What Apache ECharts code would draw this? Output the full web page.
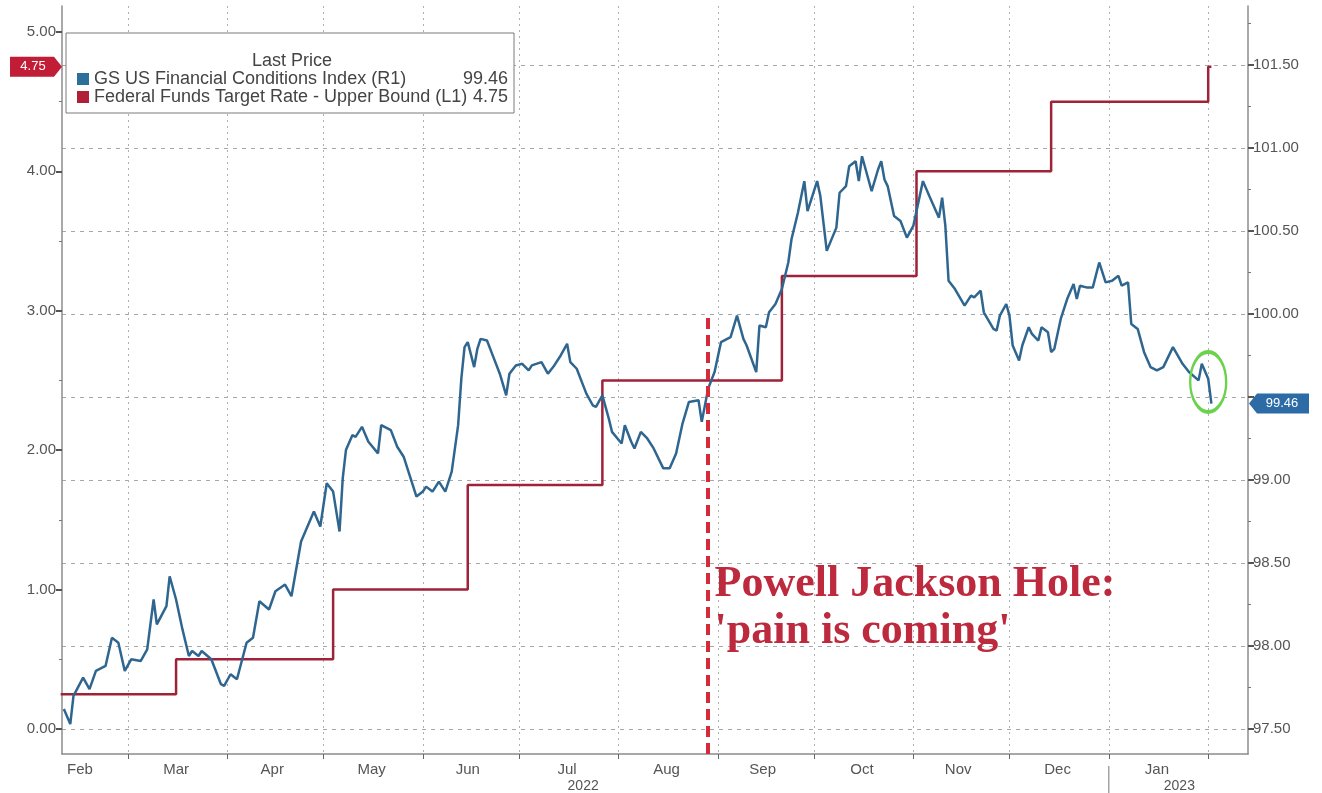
<!DOCTYPE html>
<html>
<head>
<meta charset="utf-8">
<title>GS FCI vs Fed Funds</title>
<script src="https://cdn.jsdelivr.net/npm/echarts@6/dist/echarts.min.js"></script>
<style>html,body{margin:0;background:#fff;}</style>
</head>
<body>
<div id="main" style="width:1322px;height:793px;"></div>
<script>
var fciName = 'GS US Financial Conditions Index (R1)';
var fedName = 'Federal Funds Target Rate - Upper Bound (L1)';

// GS FCI (right axis)
var fciDates = [
  '2022-02-09','2022-02-11','2022-02-12','2022-02-15','2022-02-17','2022-02-19','2022-02-22','2022-02-24','2022-02-26','2022-02-28',
  '2022-03-02','2022-03-05','2022-03-07','2022-03-09','2022-03-10','2022-03-13','2022-03-14','2022-03-16','2022-03-18','2022-03-20','2022-03-21','2022-03-23','2022-03-24','2022-03-27','2022-03-30','2022-03-31',
  '2022-04-02','2022-04-04','2022-04-07','2022-04-09','2022-04-11','2022-04-14','2022-04-16','2022-04-19','2022-04-21','2022-04-24','2022-04-28','2022-04-30',
  '2022-05-02','2022-05-04','2022-05-06','2022-05-07','2022-05-08','2022-05-10','2022-05-11','2022-05-13','2022-05-15','2022-05-18','2022-05-19','2022-05-22','2022-05-24','2022-05-26','2022-05-28','2022-05-30',
  '2022-06-01','2022-06-02','2022-06-04','2022-06-06','2022-06-08','2022-06-10','2022-06-12','2022-06-13','2022-06-14','2022-06-15','2022-06-17','2022-06-18','2022-06-19','2022-06-21','2022-06-23','2022-06-25','2022-06-27','2022-06-28','2022-06-30',
  '2022-07-02','2022-07-04','2022-07-05','2022-07-08','2022-07-10','2022-07-12','2022-07-14','2022-07-16','2022-07-17','2022-07-19','2022-07-21','2022-07-22','2022-07-24','2022-07-25','2022-07-27','2022-07-29','2022-07-30',
  '2022-08-02','2022-08-03','2022-08-05','2022-08-06','2022-08-08','2022-08-10','2022-08-12','2022-08-15','2022-08-17','2022-08-19','2022-08-21','2022-08-23','2022-08-26','2022-08-27','2022-08-29','2022-08-31',
  '2022-09-02','2022-09-05','2022-09-07','2022-09-09','2022-09-10','2022-09-13','2022-09-14','2022-09-16','2022-09-17','2022-09-19','2022-09-21','2022-09-23','2022-09-24','2022-09-26','2022-09-28','2022-09-29',
  '2022-10-02','2022-10-03','2022-10-05','2022-10-08','2022-10-09','2022-10-11','2022-10-12','2022-10-14','2022-10-15','2022-10-16','2022-10-18','2022-10-19','2022-10-21','2022-10-22','2022-10-23','2022-10-24','2022-10-26','2022-10-28','2022-10-30',
  '2022-11-01','2022-11-04','2022-11-06','2022-11-09','2022-11-10','2022-11-11','2022-11-12','2022-11-14','2022-11-17','2022-11-19','2022-11-20','2022-11-22','2022-11-23','2022-11-26','2022-11-27','2022-11-28','2022-11-30',
  '2022-12-01','2022-12-02','2022-12-04','2022-12-05','2022-12-07','2022-12-08','2022-12-10','2022-12-11','2022-12-13','2022-12-14','2022-12-15','2022-12-17','2022-12-19','2022-12-21','2022-12-22','2022-12-23','2022-12-25','2022-12-27','2022-12-29','2022-12-31',
  '2023-01-02','2023-01-04','2023-01-05','2023-01-07','2023-01-08','2023-01-10','2023-01-12','2023-01-14','2023-01-16','2023-01-18','2023-01-21','2023-01-24','2023-01-26','2023-01-29','2023-01-30',
  '2023-02-01','2023-02-02'
];
var fciValues = [
  97.62,97.53,97.70,97.81,97.74,97.85,97.88,98.05,98.02,97.85,
  97.92,97.91,97.98,98.28,98.13,98.24,98.42,98.28,98.10,97.94,97.97,97.94,97.97,97.92,97.77,97.76,
  97.83,97.80,98.02,98.05,98.27,98.22,98.33,98.37,98.30,98.63,98.81,98.72,
  98.98,98.93,98.69,99.01,99.18,99.27,99.26,99.32,99.23,99.16,99.33,99.30,99.20,99.14,99.02,98.90,
  98.93,98.96,98.93,98.99,98.93,99.05,99.33,99.61,99.80,99.83,99.68,99.79,99.85,99.84,99.74,99.64,99.51,99.64,99.69,
  99.70,99.66,99.69,99.71,99.64,99.69,99.75,99.82,99.71,99.67,99.57,99.52,99.45,99.44,99.51,99.37,99.29,
  99.22,99.33,99.23,99.19,99.29,99.25,99.19,99.07,99.07,99.16,99.34,99.47,99.48,99.35,99.55,99.65,
  99.83,99.86,99.99,99.85,99.81,99.65,99.93,99.92,100.01,100.06,100.15,100.31,100.45,100.61,100.80,100.62,
  100.80,100.71,100.38,100.52,100.73,100.77,100.89,100.92,100.80,100.95,100.81,100.74,100.87,100.92,100.81,100.77,100.59,100.56,100.46,
  100.53,100.80,100.71,100.58,100.70,100.53,100.20,100.15,100.05,100.11,100.10,100.14,100.01,99.91,99.90,99.99,100.06,
  99.99,99.81,99.72,99.81,99.92,99.88,99.84,99.92,99.89,99.77,99.79,99.97,100.09,100.18,100.09,100.17,100.16,100.16,100.31,100.19,
  100.20,100.23,100.17,100.19,99.94,99.91,99.77,99.68,99.66,99.68,99.80,99.70,99.65,99.60,99.70,
  99.61,99.46
];

// Fed funds upper bound, step changes (left axis)
var fedDates = ['2022-02-08','2022-03-16','2022-05-04','2022-06-15','2022-07-27','2022-09-21','2022-11-02','2022-12-14','2023-02-01','2023-02-02'];
var fedValues = [0.25, 0.50, 1.00, 1.75, 2.50, 3.25, 4.00, 4.50, 4.75, 4.75];

var monthTicks = ['2022-03-01','2022-04-01','2022-05-01','2022-06-01','2022-07-01','2022-08-01','2022-09-01','2022-10-01','2022-11-01','2022-12-01','2023-01-01','2023-02-01'];
var monthLabels = ['2022-02-14','2022-03-16','2022-04-15','2022-05-16','2022-06-15','2022-07-16','2022-08-16','2022-09-15','2022-10-16','2022-11-15','2022-12-16','2023-01-16'];
var yearLabels = ['2022-07-21','2023-01-23'];
var yearBreak = '2023-01-01';
var monthNames = ['Jan','Feb','Mar','Apr','May','Jun','Jul','Aug','Sep','Oct','Nov','Dec'];

var leftTicks = [0, 1, 2, 3, 4, 5];
var leftMinor = [0.5, 1.5, 2.5, 3.5, 4.5];
var rightTicks = [97.5, 98, 98.5, 99, 99.5, 100, 100.5, 101, 101.5];
var rightMinor = [97.75, 98.25, 98.75, 99.25, 99.75, 100.25, 100.75, 101.25, 101.75];

var jhDate = '2022-08-29';
var jhTop = 2.95;
var noteDate = '2022-08-31';
var noteY = 0.87;
var noteText = "Powell Jackson Hole:\n'pain is coming'";
var ringDate = '2023-02-01';
var ringY = 99.59;

// date string -> local timestamp
function ts(s) {
  var p = s.split('-');
  return new Date(+p[0], +p[1] - 1, +p[2]).getTime();
}

var xMin = new Date(2022, 1, 8, 10).getTime();
var xMax = new Date(2023, 1, 13, 10).getTime();
var L_MIN = -0.179, L_MAX = 5.186;
var R_MIN = 97.3496, R_MAX = 101.8548;

var lastFci = fciValues[fciValues.length - 1];
var lastFed = fedValues[fedValues.length - 1];

var axisGray = '#8c8c8c';
var labelGray = '#555';
var blue = '#2f6690';
var red = '#9e2238';

var chart = echarts.init(document.getElementById('main'));

function zip(a, b) {
  return a.map(function (d, i) { return [ts(d), b[i]]; });
}

var titleText = {
  id: 'legendTitle',
  type: 'text',
  x: 292, y: 61, z: 100,
  style: { text: 'Last Price', fill: '#444', font: '18px "Liberation Sans"', textAlign: 'center', textVerticalAlign: 'middle' }
};

var option = {
  animation: false,
  backgroundColor: '#fff',
  textStyle: { fontFamily: 'Liberation Sans' },
  grid: { left: 62, right: 74, top: 6, bottom: 38 },
  legend: {
    orient: 'vertical',
    left: 66,
    top: 33,
    padding: [37, 6, 7, 11],
    itemGap: 0,
    itemWidth: 12,
    itemHeight: 12,
    icon: 'rect',
    backgroundColor: '#fff',
    borderColor: '#7a7a7a',
    borderWidth: 1,
    data: [fciName, fedName],
    formatter: function (name) {
      var v = name === fciName ? lastFci.toFixed(2) : lastFed.toFixed(2);
      return '{n|' + name + '}{v|' + v + '}';
    },
    textStyle: {
      color: '#444',
      rich: {
        n: { width: 377, fontSize: 18, lineHeight: 18, color: '#444' },
        v: { width: 37, align: 'right', fontSize: 18, lineHeight: 18, color: '#444' }
      }
    }
  },
  graphic: [titleText],
  xAxis: [{
    type: 'value', min: xMin, max: xMax, gridIndex: 0,
    axisLine: { onZero: false, lineStyle: { color: axisGray, width: 1.5 } },
    axisTick: { customValues: monthTicks.map(ts), length: 5, lineStyle: { color: '#666' } },
    axisLabel: {
      customValues: monthLabels.map(ts), margin: 8, color: labelGray, fontSize: 15,
      formatter: function (v) { return monthNames[new Date(v).getMonth()]; }
    },
    splitLine: { show: true, lineStyle: { color: '#b0b0b0', type: [2, 4], width: 1 } }
  }, {
    type: 'value', min: xMin, max: xMax, gridIndex: 0, position: 'bottom', offset: 13,
    axisLine: { show: false, onZero: false },
    axisTick: { show: false },
    axisLabel: {
      customValues: yearLabels.map(ts), margin: 12, color: labelGray, fontSize: 14,
      formatter: function (v) { return String(new Date(v).getFullYear()); }
    },
    splitLine: { show: false }
  }],
  yAxis: [{
    type: 'value', position: 'left', min: L_MIN, max: L_MAX,
    axisLine: { show: true, onZero: false, lineStyle: { color: axisGray, width: 1.5 } },
    axisTick: { show: true, customValues: leftTicks, length: 6, lineStyle: { color: '#555', width: 2 } },
    axisLabel: { customValues: leftTicks, color: labelGray, fontSize: 15, margin: 6, formatter: function (v) { return v.toFixed(2); } },
    splitLine: { show: false }
  }, {
    type: 'value', position: 'right', min: R_MIN, max: R_MAX,
    axisLine: { show: true, onZero: false, lineStyle: { color: axisGray, width: 1.5 } },
    axisTick: { show: true, customValues: rightTicks, length: 6, lineStyle: { color: '#555', width: 2 } },
    axisLabel: {
      customValues: rightTicks, color: labelGray, fontSize: 15, margin: 5,
      formatter: function (v) { return Math.abs(v - 99.5) < 1e-6 ? '' : v.toFixed(2); }
    },
    splitLine: { show: true, lineStyle: { color: '#a8a8a8', type: [4, 5], width: 1 } }
  }, {
    type: 'value', position: 'left', min: L_MIN, max: L_MAX,
    axisLine: { show: false, onZero: false },
    axisTick: { show: true, customValues: leftMinor, length: 3, lineStyle: { color: '#777' } },
    axisLabel: { show: false }, splitLine: { show: false }
  }, {
    type: 'value', position: 'right', min: R_MIN, max: R_MAX,
    axisLine: { show: false, onZero: false },
    axisTick: { show: true, customValues: rightMinor, length: 3, lineStyle: { color: '#777' } },
    axisLabel: { show: false }, splitLine: { show: false }
  }],
  series: [{
    name: fedName,
    type: 'line',
    step: 'end',
    xAxisIndex: 0,
    yAxisIndex: 0,
    showSymbol: false,
    color: '#b01e38',
    lineStyle: { color: red, width: 2.5 },
    data: zip(fedDates, fedValues),
    markLine: {
      silent: true,
      symbol: ['none', 'none'],
      label: { show: false },
      lineStyle: { color: '#d42a3a', width: 4, type: [11, 6] },
      data: [[{ coord: [ts(jhDate), L_MIN] }, { coord: [ts(jhDate), jhTop] }]]
    },
    markPoint: {
      silent: true,
      data: [{
        coord: [xMin, lastFed],
        symbol: 'path://M0,0L44,0L52,10L44,20L0,20Z',
        symbolSize: [52, 20],
        symbolOffset: [-26, 0],
        itemStyle: { color: '#c21d36' },
        label: { show: true, position: 'inside', formatter: lastFed.toFixed(2), color: '#fff', fontSize: 13, offset: [-3, 0] }
      }, {
        coord: [ts(noteDate), noteY],
        symbol: 'circle',
        symbolSize: 0,
        label: {
          show: true, position: 'right', distance: 0, formatter: noteText,
          color: '#bd2a3e', fontFamily: 'Liberation Serif', fontWeight: 'bold', fontSize: 44, lineHeight: 47, align: 'left'
        }
      }]
    }
  }, {
    name: fciName,
    type: 'line',
    xAxisIndex: 0,
    yAxisIndex: 1,
    showSymbol: false,
    color: '#2c7099',
    lineStyle: { color: blue, width: 2.5 },
    data: zip(fciDates, fciValues),
    markPoint: {
      silent: true,
      data: [{
        coord: [xMax, lastFci],
        symbol: 'path://M8,0L60,0L60,20L8,20L0,10Z',
        symbolSize: [60, 20],
        symbolOffset: [31, 0],
        itemStyle: { color: '#2c6ba5' },
        label: { show: true, position: 'inside', formatter: lastFci.toFixed(2), color: '#fff', fontSize: 13, offset: [3, 0] }
      }, {
        coord: [ts(ringDate), ringY],
        symbol: 'path://M0,30A18,30 0 1,0 36,30A18,30 0 1,0 0,30Z',
        symbolSize: [36, 60],
        itemStyle: { color: 'rgba(0,0,0,0)', borderColor: '#6ad24c', borderWidth: 3 },
        label: { show: false }
      }]
    }
  }]
};

chart.setOption(option);

// year separator below the axis, placed through the x scale
var sepX = chart.convertToPixel({ xAxisIndex: 0 }, ts(yearBreak));
chart.setOption({
  graphic: [titleText, {
    id: 'yearSep',
    type: 'line',
    shape: { x1: sepX, y1: 766, x2: sepX, y2: 793 },
    style: { stroke: '#777', lineWidth: 1 }
  }]
});
</script>
</body>
</html>
